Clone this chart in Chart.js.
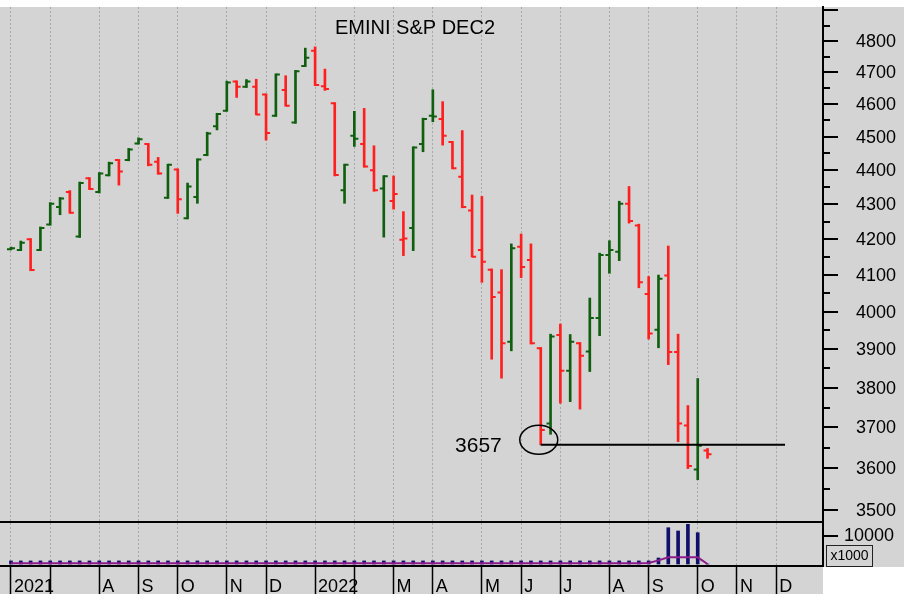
<!DOCTYPE html>
<html>
<head>
<meta charset="utf-8">
<script src="https://cdn.jsdelivr.net/npm/chart.js@4.4.1/dist/chart.umd.min.js"></script>
<style>
  html, body { margin: 0; padding: 0; background: #fff; }
  #wrap { position: relative; width: 904px; height: 594px; }
  #priceChart { position: absolute; left: 0; top: 0; }
  #volChart { position: absolute; left: 0; top: 523px; }
</style>
</head>
<body>
<div id="wrap">
  <canvas id="priceChart" width="904" height="523"></canvas>
  <canvas id="volChart" width="904" height="71"></canvas>
</div>
<script>
// weekly bars, Jun 2021 .. Oct 2022 (index = week number from the first bar)
const opens = [
  4172, 4170, 4200, 4170, 4242, 4292, 4336, 4208, 4376, 4336,
  4385, 4430, 4430, 4480, 4478, 4425, 4319, 4402, 4260, 4321,
  4445, 4532, 4580, 4671, 4654, 4654, 4630, 4564, 4644, 4544,
  4720, 4769, 4656, 4603, 4341, 4503, 4478, 4400, 4346, 4310,
  4199, 4232, 4478, 4564, 4554, 4484, 4381, 4282, 4170, 4115,
  4052, 3920, 4179, 4142, 3903, 3710, 3938, 3844, 3916, 3894,
  3983, 4156, 4165, 4302, 4239, 4048, 3952, 4099, 3893, 3705,
  3597, 3643
];
const highs = [
  4178, 4195, 4202, 4235, 4305, 4320, 4340, 4365, 4378, 4393,
  4424, 4432, 4465, 4497, 4480, 4438, 4418, 4404, 4362, 4434,
  4514, 4572, 4672, 4673, 4677, 4678, 4632, 4695, 4689, 4706,
  4777, 4781, 4710, 4605, 4418, 4578, 4587, 4473, 4384, 4383,
  4279, 4470, 4557, 4645, 4608, 4486, 4519, 4327, 4323, 4117,
  4115, 4187, 4215, 4187, 3905, 3940, 3967, 3939, 3918, 4037,
  4161, 4196, 4309, 4352, 4243, 4096, 4100, 4181, 3940, 3755,
  3824, 3648
];
const lows = [
  4170, 4168, 4112, 4168, 4240, 4270, 4274, 4205, 4343, 4333,
  4383, 4356, 4428, 4478, 4413, 4388, 4317, 4274, 4258, 4303,
  4443, 4521, 4578, 4621, 4652, 4567, 4490, 4562, 4594, 4541,
  4718, 4658, 4643, 4383, 4303, 4471, 4409, 4338, 4206, 4286,
  4154, 4168, 4455, 4546, 4475, 4404, 4290, 4150, 4080, 3874,
  3825, 3896, 4093, 3914, 3657, 3683, 3761, 3765, 3746, 3842,
  3936, 4105, 4140, 4246, 4065, 3927, 3904, 3860, 3665, 3599,
  3572, 3624
];
const closes = [
  4175, 4190, 4114, 4232, 4302, 4317, 4276, 4362, 4345, 4390,
  4421, 4396, 4462, 4493, 4416, 4390, 4416, 4315, 4352, 4432,
  4510, 4570, 4668, 4654, 4671, 4568, 4512, 4693, 4595, 4703,
  4746, 4660, 4647, 4386, 4416, 4494, 4411, 4341, 4382, 4330,
  4202, 4468, 4554, 4562, 4503, 4406, 4292, 4151, 4137, 4040,
  3916, 4175, 4122, 3916, 3694, 3934, 3844, 3920, 3883, 3983,
  4156, 4170, 4302, 4252, 4080, 3942, 4090, 3893, 3710, 3605,
  3655, 3634
];
// volume and open interest, in thousands
const volumes = [
  1100, 1100, 1100, 1100, 1100, 1100, 1100, 1100, 1100, 1100,
  1100, 1100, 1100, 1100, 1100, 1100, 1100, 1100, 1100, 1100,
  1100, 1100, 1100, 1100, 1100, 1100, 1100, 1100, 1100, 1100,
  1100, 1100, 1100, 1100, 1100, 1100, 1100, 1100, 1100, 1100,
  1100, 1100, 1100, 1100, 1100, 1100, 1100, 1100, 1100, 1100,
  1100, 1100, 1100, 1100, 1100, 1100, 1100, 1100, 1100, 1100,
  1100, 1100, 1100, 1100, 1100, 1100, 2140, 12960, 11790, 14180,
  11180, 0
];
const openInterest = [
  300, 300, 300, 300, 300, 300, 300, 300, 300, 300,
  300, 300, 300, 300, 300, 300, 300, 300, 300, 300,
  300, 300, 300, 300, 300, 300, 300, 300, 300, 300,
  300, 300, 300, 300, 300, 300, 300, 300, 300, 300,
  300, 300, 300, 300, 300, 300, 300, 300, 300, 300,
  300, 300, 300, 300, 300, 300, 300, 300, 300, 300,
  300, 300, 300, 300, 300, 400, 1300, 2400, 2420, 2410,
  2390, 0
];
const monthStarts = [0, 4, 9, 13, 17, 22, 26, 31, 35, 39, 43, 48, 52, 56, 61, 65, 70, 74, 78];
const monthLabels = ['2021', '', 'A', 'S', 'O', 'N', 'D', '2022', '', 'M', 'A', 'M', 'J', 'J', 'A', 'S', 'O', 'N', 'D'];
const priceLabels = [3500, 3600, 3700, 3800, 3900, 4000, 4100, 4200, 4300, 4400, 4500, 4600, 4700, 4800, 4900];
const volumeLabels = [10000];

const supportLevel = 3657;
const supportFrom = 54;
const supportTo = 78.9;

const BG = '#d4d4d4';
const UP = '#0f5f0f';
const DOWN = '#ff1f1f';
const FONT = '"Liberation Sans", Arial, Helvetica, sans-serif';
const X_MIN = -1.12;
const X_MAX = 82.77;
const AXIS_W = 81;

Chart.defaults.font.family = FONT;
Chart.defaults.color = '#000';
Chart.defaults.animation = false;

// colour follows the change from the previous close
const barColors = closes.map((c, i) => (i === 0 || c >= closes[i - 1]) ? UP : DOWN);

const background = {
  id: 'background',
  beforeDraw(chart, args, opts) {
    const ctx = chart.ctx;
    ctx.save();
    ctx.fillStyle = BG;
    opts.rects.forEach(r => ctx.fillRect(r[0], r[1], r[2], r[3]));
    ctx.restore();
  }
};

const axisTicks = {
  id: 'axisTicks',
  afterDraw(chart) {
    const s = chart.scales.y;
    const ctx = chart.ctx;
    ctx.save();
    ctx.strokeStyle = '#000';
    ctx.lineWidth = 2;
    s.ticks.forEach(t => {
      const y = Math.round(s.getPixelForValue(t.value));
      ctx.beginPath();
      ctx.moveTo(s.left, y);
      ctx.lineTo(s.left + (t.major ? 15 : 7), y);
      ctx.stroke();
    });
    ctx.restore();
  }
};

const ohlcTicks = {
  id: 'ohlcTicks',
  afterDatasetsDraw(chart) {
    const { ctx, scales: { x, y } } = chart;
    ctx.save();
    ctx.lineWidth = 2;
    opens.forEach((o, i) => {
      const px = x.getPixelForValue(i);
      const yo = y.getPixelForValue(o);
      const yc = y.getPixelForValue(closes[i]);
      ctx.strokeStyle = barColors[i];
      ctx.beginPath();
      ctx.moveTo(px - 4, yo);
      ctx.lineTo(px, yo);
      ctx.moveTo(px, yc);
      ctx.lineTo(px + 4, yc);
      ctx.stroke();
    });
    ctx.restore();
  }
};

const supportLine = {
  id: 'supportLine',
  afterDatasetsDraw(chart) {
    const { ctx, scales: { x, y } } = chart;
    const yl = y.getPixelForValue(supportLevel);
    const x0 = x.getPixelForValue(supportFrom);
    const x1 = x.getPixelForValue(supportTo);
    ctx.save();
    ctx.strokeStyle = '#000';
    ctx.lineWidth = 2;
    ctx.beginPath();
    ctx.moveTo(x0, yl);
    ctx.lineTo(x1, yl);
    ctx.stroke();
    ctx.lineWidth = 1.5;
    ctx.beginPath();
    ctx.ellipse(x0 - 2, yl - 5, 19, 14.5, 0, 0, Math.PI * 2);
    ctx.stroke();
    ctx.font = '21px ' + FONT;
    ctx.fillStyle = '#000';
    ctx.textAlign = 'right';
    ctx.textBaseline = 'middle';
    ctx.fillText(String(supportLevel), x0 - 39, yl + 1);
    ctx.restore();
  }
};

const titleText = {
  id: 'titleText',
  afterDraw(chart, args, opts) {
    const ctx = chart.ctx;
    ctx.save();
    ctx.font = '20px ' + FONT;
    ctx.fillStyle = '#000';
    ctx.textAlign = 'center';
    ctx.textBaseline = 'middle';
    ctx.fillText(opts.text, opts.x, opts.y);
    ctx.restore();
  }
};

const unitBox = {
  id: 'unitBox',
  afterDraw(chart) {
    const ctx = chart.ctx;
    ctx.save();
    ctx.strokeStyle = '#222';
    ctx.lineWidth = 1;
    ctx.strokeRect(826.5, 22.5, 46, 21);
    ctx.font = '14px ' + FONT;
    ctx.fillStyle = '#000';
    ctx.textAlign = 'center';
    ctx.textBaseline = 'middle';
    ctx.fillText('x1000', 849.5, 33.5);
    ctx.restore();
  }
};

function monthTicks(scale) {
  scale.ticks = monthStarts.map(v => ({ value: v }));
}

// fixed axis boxes, so the plot areas line up with the reference
function fitRight(s) {
  s.width = AXIS_W;
  s.paddingTop = 0;
  s.paddingBottom = 0;
}
function fitBottom(h) {
  return s => {
    s.height = h;
    s.paddingLeft = 0;
    s.paddingRight = 0;
  };
}

new Chart(document.getElementById('priceChart'), {
  type: 'bar',
  data: {
    datasets: [{
      data: lows.map((l, i) => ({ x: i, y: [l, highs[i]] })),
      backgroundColor: barColors,
      borderWidth: 0,
      barThickness: 2
    }]
  },
  options: {
    responsive: false,
    layout: { padding: { top: 7, right: 0, bottom: 1, left: 0 } },
    plugins: {
      legend: { display: false },
      tooltip: { enabled: false },
      background: { rects: [[0, 7, 904, 516]] },
      titleText: { text: 'EMINI S&P DEC2', x: 415, y: 28.5 }
    },
    scales: {
      x: {
        type: 'linear',
        min: X_MIN,
        max: X_MAX,
        bounds: 'data',
        offset: false,
        afterBuildTicks: monthTicks,
        afterFit: fitBottom(0),
        ticks: { display: false },
        grid: { color: '#a8a8a8', lineWidth: 1, drawTicks: false, offset: false },
        border: { display: true, color: '#000', width: 2, dash: [2, 2] }
      },
      y: {
        type: 'logarithmic',
        position: 'right',
        min: 3471.8,
        max: 4911.2,
        bounds: 'data',
        afterBuildTicks: s => {
          const t = [];
          priceLabels.forEach((v, i) => {
            t.push({ value: v, major: true });
            if (i < priceLabels.length - 1) t.push({ value: v + 50, major: false });
          });
          s.ticks = t;
        },
        afterFit: fitRight,
        ticks: {
          padding: 33,
          labelOffset: 1,
          autoSkip: false,
          font: { size: 18 },
          color: '#000',
          callback: v => (v % 100 === 0 && v < 4900) ? String(v) : ''
        },
        grid: { drawOnChartArea: false, drawTicks: false },
        border: { display: true, color: '#000', width: 2 }
      }
    }
  },
  plugins: [background, ohlcTicks, supportLine, titleText, axisTicks]
});

new Chart(document.getElementById('volChart'), {
  type: 'bar',
  data: {
    datasets: [{
      type: 'line',
      data: openInterest.map((v, i) => ({ x: i, y: v })),
      borderColor: '#8c1c8c',
      borderWidth: 2,
      pointRadius: 0,
      tension: 0,
      order: 0
    }, {
      type: 'bar',
      data: volumes.map((v, i) => ({ x: i, y: v })),
      backgroundColor: '#10106a',
      borderWidth: 0,
      barThickness: 3,
      order: 1
    }]
  },
  options: {
    responsive: false,
    layout: { padding: 0 },
    plugins: {
      legend: { display: false },
      tooltip: { enabled: false },
      background: { rects: [[0, 0, 904, 44], [0, 44, 823, 27]] }
    },
    scales: {
      x: {
        type: 'linear',
        min: X_MIN,
        max: X_MAX,
        bounds: 'data',
        offset: false,
        afterBuildTicks: monthTicks,
        afterFit: fitBottom(28),
        ticks: {
          align: 'start',
          labelOffset: 3,
          padding: -18,
          autoSkip: false,
          maxRotation: 0,
          minRotation: 0,
          font: { size: 18 },
          color: '#000',
          callback: (v, idx) => monthLabels[idx]
        },
        grid: {
          color: '#a8a8a8', lineWidth: 1, offset: false,
          drawTicks: true, tickLength: 28, tickColor: '#000', tickWidth: 1.5, tickBorderDash: []
        },
        border: { display: true, color: '#000', width: 2, dash: [2, 2] }
      },
      y: {
        position: 'right',
        min: -714,
        max: 14643,
        bounds: 'data',
        afterBuildTicks: s => { s.ticks = volumeLabels.map(v => ({ value: v, major: true })); },
        afterFit: fitRight,
        ticks: { padding: 21, autoSkip: false, font: { size: 18 }, color: '#000', callback: v => String(v) },
        grid: { drawOnChartArea: false, drawTicks: false },
        border: { display: true, color: '#000', width: 2 }
      }
    }
  },
  plugins: [background, axisTicks, unitBox]
});
</script>
</body>
</html>
